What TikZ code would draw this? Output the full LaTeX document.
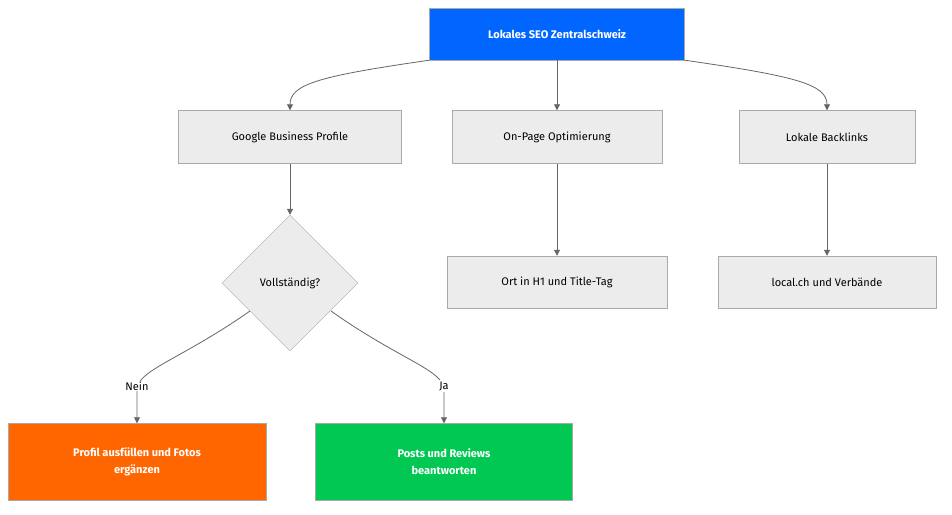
\documentclass[tikz,border=0pt]{standalone}
\usepackage{fontspec}
\setmainfont{Fira Sans}
\usetikzlibrary{shapes.geometric,arrows.meta}
\definecolor{boxfill}{HTML}{ECECEC}
\definecolor{boxline}{HTML}{AAAAAA}
\definecolor{edge}{HTML}{666666}
\definecolor{topblue}{HTML}{0066FF}
\definecolor{orng}{HTML}{FF6600}
\definecolor{grn}{HTML}{00C853}
\tikzset{
 box/.style={draw=boxline,fill=boxfill,rectangle,inner sep=0pt,font=\fontsize{11}{13}\selectfont},
 col/.style={rectangle,inner sep=0pt,text=white,align=center,font=\fontsize{11}{17}\selectfont\bfseries},
 conn/.style={draw=edge,line width=0.8pt,-{Triangle[length=6pt,width=6pt]}},
 lbl/.style={fill=white,inner sep=1pt,font=\fontsize{11}{13}\selectfont}
}
\begin{document}
\begin{tikzpicture}[x=1pt,y=-1pt]
\useasboundingbox[fill=white] (0,0) rectangle (952,514);
\node[col,fill=topblue,draw=boxline,minimum width=255,minimum height=52] (top) at (557,34) {Lokales SEO Zentralschweiz};
\node[box,minimum width=223,minimum height=53] (gbp) at (290,137) {Google Business Profile};
\node[box,minimum width=210,minimum height=53] (onp) at (557,137) {On-Page Optimierung};
\node[box,minimum width=176,minimum height=53] (lbl) at (827,137) {Lokale Backlinks};
\node[box,diamond,minimum width=136,minimum height=136] (dia) at (290,283) {Vollständig?};
\node[box,minimum width=220,minimum height=52] (ort) at (557,282) {Ort in H1 und Title-Tag};
\node[box,minimum width=218,minimum height=52] (loc) at (827,282) {local.ch und Verbände};
\node[col,fill=orng,draw=boxline,minimum width=258,minimum height=77] (prof) at (137,462) {Profil ausfüllen und Fotos\\ergänzen};
\node[col,fill=grn,draw=boxline,minimum width=257,minimum height=77] (post) at (444,462) {Posts und Reviews\\beantworten};
\draw[conn] (top.south west) .. controls (320,76) and (290,84) .. (gbp.north);
\draw[conn] (top.south) -- (onp.north);
\draw[conn] (top.south east) .. controls (794,76) and (827,84) .. (lbl.north);
\draw[conn] (gbp.south) -- (dia.north);
\draw[conn] (onp.south) -- (ort.north);
\draw[conn] (lbl.south) -- (loc.north);
\coordinate (n1) at (250,311);
\coordinate (j1) at (331,311);
\draw[conn] (n1) .. controls (180,360) and (137,370) .. (137,390) -- (prof.north);
\draw[conn] (j1) .. controls (400,360) and (444,370) .. (444,390) -- (post.north);
\node[lbl] (nein) at (137,386) {Nein};
\node[lbl] (ja) at (444,386) {Ja};
\end{tikzpicture}
\end{document}
